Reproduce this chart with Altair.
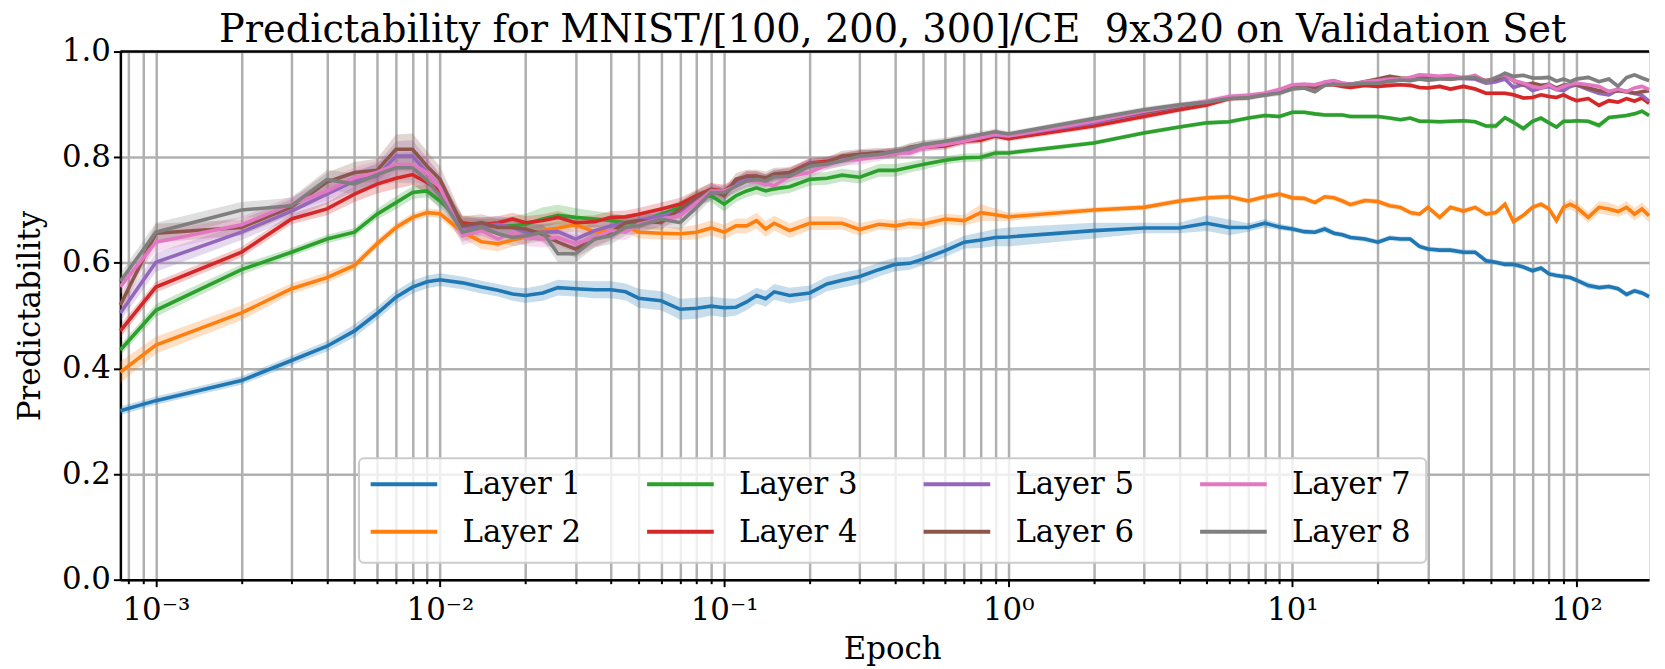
import altair as alt
import pandas as pd

FONT = "DejaVu Serif"

epochs = [0.00075, 0.001, 0.002, 0.003, 0.004, 0.005, 0.006, 0.007, 0.008, 0.009,
          0.01, 0.012, 0.014, 0.016, 0.018, 0.02, 0.023, 0.026, 0.03, 0.035, 0.04, 0.045, 0.05, 0.06, 0.07, 0.08, 0.09,
          0.1, 0.11, 0.12, 0.13, 0.14, 0.15, 0.17, 0.2, 0.23, 0.26, 0.3, 0.35, 0.4, 0.45, 0.5, 0.6, 0.7, 0.8, 0.9,
          1, 2, 3, 4, 5, 6, 7, 8, 9,
          10, 11, 12, 13, 14, 15, 16, 18,
          20, 22, 24, 26, 28, 30, 33, 36, 40, 44,
          48, 52, 56, 60, 65, 70, 75, 80, 85, 90,
          95, 100, 110, 120, 130, 140, 150, 160, 170, 180]

layer1 = [0.320, 0.339, 0.377, 0.415, 0.442, 0.471, 0.504, 0.535, 0.554, 0.564,
          0.568, 0.562, 0.554, 0.548, 0.541, 0.538, 0.543, 0.553, 0.551, 0.549, 0.549, 0.545, 0.533, 0.528, 0.512, 0.514, 0.518,
          0.515, 0.516, 0.526, 0.538, 0.532, 0.545, 0.538, 0.543, 0.560, 0.567, 0.574, 0.587, 0.597, 0.599, 0.607, 0.623, 0.639, 0.643, 0.648,
          0.649, 0.661, 0.666, 0.666, 0.675, 0.667, 0.667, 0.675, 0.668,
          0.664, 0.659, 0.658, 0.664, 0.656, 0.653, 0.648, 0.645,
          0.639, 0.647, 0.645, 0.645, 0.631, 0.626, 0.624, 0.624, 0.620, 0.620,
          0.604, 0.601, 0.597, 0.597, 0.592, 0.585, 0.590, 0.579, 0.576, 0.574,
          0.572, 0.567, 0.557, 0.553, 0.555, 0.551, 0.540, 0.547, 0.543, 0.536]

layer2 = [0.393, 0.444, 0.505, 0.551, 0.572, 0.595, 0.636, 0.667, 0.686, 0.695,
          0.693, 0.658, 0.640, 0.636, 0.643, 0.649, 0.661, 0.666, 0.672, 0.659, 0.659, 0.670, 0.658, 0.656, 0.655, 0.658, 0.666,
          0.658, 0.670, 0.670, 0.680, 0.664, 0.675, 0.661, 0.675, 0.675, 0.675, 0.663, 0.673, 0.670, 0.675, 0.673, 0.683, 0.680, 0.695, 0.691,
          0.687, 0.700, 0.705, 0.717, 0.723, 0.725, 0.717, 0.725, 0.730,
          0.723, 0.722, 0.714, 0.725, 0.723, 0.717, 0.710, 0.718,
          0.716, 0.708, 0.705, 0.695, 0.692, 0.705, 0.686, 0.705, 0.698, 0.705,
          0.692, 0.695, 0.711, 0.678, 0.690, 0.705, 0.711, 0.702, 0.680, 0.705,
          0.711, 0.705, 0.686, 0.705, 0.702, 0.697, 0.705, 0.692, 0.702, 0.689]

layer3 = [0.435, 0.510, 0.587, 0.620, 0.645, 0.658, 0.692, 0.714, 0.733, 0.736,
          0.717, 0.676, 0.670, 0.670, 0.670, 0.673, 0.683, 0.690, 0.686, 0.683, 0.680, 0.676, 0.676, 0.692, 0.705, 0.724, 0.727,
          0.711, 0.727, 0.736, 0.742, 0.736, 0.740, 0.744, 0.758, 0.760, 0.766, 0.762, 0.775, 0.775, 0.781, 0.786, 0.794, 0.799, 0.800, 0.808,
          0.808, 0.827, 0.846, 0.857, 0.865, 0.867, 0.874, 0.879, 0.877,
          0.885, 0.885, 0.882, 0.880, 0.880, 0.880, 0.877, 0.877,
          0.877, 0.874, 0.871, 0.874, 0.868, 0.868, 0.867, 0.868, 0.869, 0.867,
          0.859, 0.859, 0.875, 0.866, 0.854, 0.868, 0.874, 0.865, 0.857, 0.868,
          0.868, 0.869, 0.868, 0.860, 0.875, 0.877, 0.879, 0.882, 0.887, 0.879]

layer4 = [0.471, 0.554, 0.620, 0.683, 0.702, 0.730, 0.749, 0.760, 0.767, 0.752,
          0.736, 0.675, 0.672, 0.676, 0.683, 0.676, 0.680, 0.686, 0.676, 0.678, 0.686, 0.687, 0.692, 0.702, 0.711, 0.727, 0.739,
          0.736, 0.752, 0.764, 0.764, 0.758, 0.765, 0.771, 0.789, 0.792, 0.799, 0.805, 0.806, 0.811, 0.812, 0.819, 0.821, 0.830, 0.832, 0.840,
          0.835, 0.859, 0.877, 0.890, 0.899, 0.911, 0.913, 0.919, 0.924,
          0.934, 0.937, 0.934, 0.937, 0.937, 0.934, 0.932, 0.936,
          0.934, 0.936, 0.937, 0.936, 0.932, 0.931, 0.934, 0.929, 0.934, 0.929,
          0.921, 0.921, 0.921, 0.918, 0.912, 0.913, 0.918, 0.915, 0.913, 0.918,
          0.912, 0.907, 0.911, 0.898, 0.907, 0.904, 0.911, 0.906, 0.912, 0.902]

layer5 = [0.505, 0.601, 0.658, 0.698, 0.730, 0.755, 0.764, 0.802, 0.802, 0.771,
          0.742, 0.667, 0.670, 0.673, 0.667, 0.658, 0.658, 0.659, 0.645, 0.661, 0.670, 0.676, 0.680, 0.689, 0.698, 0.720, 0.733,
          0.730, 0.749, 0.761, 0.761, 0.755, 0.765, 0.768, 0.788, 0.790, 0.797, 0.804, 0.805, 0.810, 0.812, 0.819, 0.824, 0.832, 0.838, 0.842,
          0.840, 0.865, 0.884, 0.896, 0.904, 0.913, 0.915, 0.919, 0.924,
          0.934, 0.937, 0.931, 0.942, 0.944, 0.940, 0.938, 0.942,
          0.943, 0.944, 0.946, 0.948, 0.950, 0.951, 0.950, 0.950, 0.949, 0.948,
          0.940, 0.943, 0.948, 0.932, 0.938, 0.926, 0.931, 0.934, 0.928, 0.926,
          0.934, 0.937, 0.928, 0.921, 0.918, 0.928, 0.924, 0.921, 0.917, 0.906]

layer6 = [0.520, 0.656, 0.667, 0.706, 0.753, 0.771, 0.775, 0.815, 0.815, 0.783,
          0.758, 0.670, 0.676, 0.667, 0.667, 0.664, 0.654, 0.639, 0.626, 0.645, 0.658, 0.676, 0.680, 0.676, 0.702, 0.724, 0.739,
          0.727, 0.758, 0.764, 0.764, 0.761, 0.768, 0.771, 0.786, 0.790, 0.802, 0.805, 0.809, 0.808, 0.819, 0.823, 0.827, 0.835, 0.840, 0.846,
          0.842, 0.868, 0.885, 0.896, 0.904, 0.912, 0.915, 0.919, 0.924,
          0.934, 0.937, 0.932, 0.938, 0.940, 0.938, 0.937, 0.943,
          0.948, 0.953, 0.950, 0.948, 0.950, 0.951, 0.950, 0.948, 0.951, 0.950,
          0.945, 0.948, 0.955, 0.945, 0.937, 0.940, 0.936, 0.938, 0.931, 0.936,
          0.938, 0.937, 0.931, 0.926, 0.924, 0.926, 0.924, 0.921, 0.924, 0.926]

layer7 = [0.555, 0.639, 0.672, 0.711, 0.736, 0.761, 0.771, 0.786, 0.786, 0.771,
          0.742, 0.651, 0.661, 0.645, 0.658, 0.648, 0.645, 0.648, 0.636, 0.648, 0.661, 0.658, 0.673, 0.683, 0.689, 0.714, 0.736,
          0.736, 0.745, 0.755, 0.755, 0.749, 0.746, 0.764, 0.771, 0.786, 0.793, 0.796, 0.802, 0.808, 0.808, 0.818, 0.824, 0.830, 0.837, 0.843,
          0.840, 0.868, 0.887, 0.898, 0.906, 0.915, 0.917, 0.921, 0.928,
          0.937, 0.938, 0.937, 0.942, 0.945, 0.940, 0.938, 0.943,
          0.945, 0.948, 0.948, 0.951, 0.956, 0.955, 0.953, 0.955, 0.950, 0.955,
          0.943, 0.951, 0.956, 0.945, 0.940, 0.934, 0.931, 0.937, 0.928, 0.934,
          0.938, 0.940, 0.937, 0.934, 0.924, 0.929, 0.924, 0.931, 0.934, 0.928]

layer8 = [0.565, 0.658, 0.700, 0.708, 0.758, 0.749, 0.767, 0.780, 0.780, 0.756,
          0.727, 0.658, 0.667, 0.655, 0.648, 0.651, 0.658, 0.617, 0.617, 0.645, 0.651, 0.667, 0.670, 0.683, 0.676, 0.705, 0.733,
          0.733, 0.745, 0.755, 0.758, 0.755, 0.763, 0.764, 0.783, 0.787, 0.793, 0.802, 0.805, 0.811, 0.817, 0.824, 0.830, 0.837, 0.843, 0.848,
          0.844, 0.873, 0.890, 0.899, 0.904, 0.911, 0.913, 0.918, 0.921,
          0.929, 0.931, 0.924, 0.936, 0.938, 0.937, 0.938, 0.940,
          0.940, 0.944, 0.946, 0.945, 0.948, 0.946, 0.948, 0.948, 0.950, 0.951,
          0.943, 0.950, 0.959, 0.953, 0.955, 0.950, 0.950, 0.951, 0.944, 0.948,
          0.943, 0.948, 0.951, 0.943, 0.948, 0.934, 0.951, 0.956, 0.950, 0.945]

# half-widths of the shaded bands
spread1 = [0.008, 0.008, 0.008, 0.009, 0.010, 0.012, 0.012, 0.012, 0.012, 0.012,
           0.012, 0.012, 0.012, 0.012, 0.013, 0.014, 0.015, 0.015, 0.015, 0.016, 0.016, 0.016, 0.018, 0.018, 0.020, 0.020, 0.018,
           0.018, 0.016, 0.016, 0.015, 0.015, 0.015, 0.015, 0.014, 0.014, 0.014, 0.014, 0.013, 0.013, 0.012, 0.012, 0.012, 0.012, 0.015, 0.016,
           0.018, 0.015, 0.010, 0.010, 0.015, 0.015, 0.008, 0.008, 0.006,
           0.005, 0.005, 0.005, 0.006, 0.005, 0.005, 0.005, 0.005,
           0.005, 0.005, 0.005, 0.005, 0.005, 0.005, 0.005, 0.005, 0.005, 0.005,
           0.005, 0.005, 0.005, 0.005, 0.005, 0.005, 0.005, 0.005, 0.005, 0.005,
           0.005, 0.005, 0.006, 0.005, 0.005, 0.005, 0.005, 0.005, 0.005, 0.005]

spread2 = [0.020, 0.016, 0.014, 0.010, 0.010, 0.009, 0.008, 0.008, 0.008, 0.008,
           0.008, 0.012, 0.014, 0.014, 0.012, 0.012, 0.012, 0.012, 0.012, 0.012, 0.012, 0.012, 0.012, 0.012, 0.012, 0.014, 0.014,
           0.014, 0.014, 0.014, 0.015, 0.015, 0.014, 0.014, 0.013, 0.013, 0.012, 0.012, 0.010, 0.010, 0.010, 0.010, 0.010, 0.010, 0.016, 0.012,
           0.008, 0.005, 0.005, 0.005, 0.005, 0.005, 0.005, 0.005, 0.005,
           0.005, 0.005, 0.005, 0.005, 0.005, 0.005, 0.005, 0.005,
           0.005, 0.005, 0.005, 0.005, 0.005, 0.005, 0.005, 0.005, 0.005, 0.005,
           0.005, 0.005, 0.005, 0.005, 0.005, 0.005, 0.005, 0.005, 0.008, 0.008,
           0.010, 0.010, 0.010, 0.012, 0.012, 0.010, 0.012, 0.012, 0.012, 0.012]

spread3 = [0.010, 0.012, 0.010, 0.008, 0.008, 0.008, 0.010, 0.012, 0.012, 0.012,
           0.012, 0.012, 0.012, 0.015, 0.018, 0.020, 0.022, 0.020, 0.018, 0.015, 0.014, 0.013, 0.012, 0.012, 0.012, 0.012, 0.012,
           0.014, 0.012, 0.012, 0.012, 0.012, 0.012, 0.012, 0.012, 0.012, 0.012, 0.012, 0.012, 0.012, 0.010, 0.010, 0.008, 0.008, 0.008, 0.006,
           0.005, 0.004, 0.004, 0.004, 0.004, 0.004, 0.004, 0.004, 0.004,
           0.004, 0.004, 0.004, 0.004, 0.004, 0.004, 0.004, 0.004,
           0.004, 0.004, 0.004, 0.004, 0.004, 0.004, 0.004, 0.004, 0.004, 0.004,
           0.004, 0.006, 0.004, 0.004, 0.006, 0.004, 0.004, 0.004, 0.004, 0.004,
           0.004, 0.004, 0.004, 0.006, 0.004, 0.004, 0.004, 0.004, 0.004, 0.004]

spread4 = [0.012, 0.010, 0.010, 0.010, 0.012, 0.015, 0.018, 0.020, 0.020, 0.020,
           0.018, 0.015, 0.014, 0.012, 0.012, 0.012, 0.012, 0.012, 0.012, 0.012, 0.012, 0.012, 0.012, 0.012, 0.012, 0.012, 0.012,
           0.012, 0.010, 0.010, 0.010, 0.010, 0.010, 0.010, 0.009, 0.009, 0.009, 0.008, 0.008, 0.008, 0.008, 0.007, 0.007, 0.006, 0.006, 0.006,
           0.005, 0.005, 0.005, 0.005, 0.005, 0.005, 0.005, 0.005, 0.005,
           0.004, 0.004, 0.004, 0.004, 0.004, 0.004, 0.004, 0.004,
           0.004, 0.004, 0.004, 0.004, 0.004, 0.004, 0.004, 0.004, 0.004, 0.004,
           0.004, 0.004, 0.004, 0.004, 0.004, 0.004, 0.004, 0.004, 0.004, 0.004,
           0.004, 0.004, 0.004, 0.004, 0.004, 0.004, 0.004, 0.004, 0.004, 0.004]

spread_upper = [0.015, 0.018, 0.015, 0.015, 0.018, 0.020, 0.022, 0.028, 0.030, 0.028,
                0.025, 0.018, 0.016, 0.016, 0.016, 0.016, 0.016, 0.016, 0.016, 0.016, 0.016, 0.015, 0.015, 0.014, 0.014, 0.013, 0.013,
                0.012, 0.012, 0.012, 0.012, 0.012, 0.012, 0.010, 0.010, 0.010, 0.010, 0.010, 0.009, 0.008, 0.008, 0.008, 0.007, 0.007, 0.006, 0.006,
                0.005, 0.005, 0.005, 0.005, 0.005, 0.005, 0.005, 0.005, 0.005,
                0.004, 0.004, 0.004, 0.004, 0.004, 0.004, 0.004, 0.004,
                0.004, 0.004, 0.004, 0.004, 0.004, 0.004, 0.004, 0.004, 0.004, 0.004,
                0.004, 0.004, 0.004, 0.004, 0.004, 0.004, 0.004, 0.004, 0.004, 0.004,
                0.004, 0.004, 0.004, 0.004, 0.004, 0.004, 0.004, 0.004, 0.004, 0.004]

layer_names = ["Layer 1", "Layer 2", "Layer 3", "Layer 4", "Layer 5", "Layer 6", "Layer 7", "Layer 8"]
layer_colors = ["#1f77b4", "#ff7f0e", "#2ca02c", "#d62728", "#9467bd", "#8c564b", "#e377c2", "#7f7f7f"]
series = [layer1, layer2, layer3, layer4, layer5, layer6, layer7, layer8]
spreads = [spread1, spread2, spread3, spread4, spread_upper, spread_upper, spread_upper, spread_upper]

x_ticks = [0.0008, 0.0009,
           0.001, 0.002, 0.003, 0.004, 0.005, 0.006, 0.007, 0.008, 0.009,
           0.01, 0.02, 0.03, 0.04, 0.05, 0.06, 0.07, 0.08, 0.09,
           0.1, 0.2, 0.3, 0.4, 0.5, 0.6, 0.7, 0.8, 0.9,
           1, 2, 3, 4, 5, 6, 7, 8, 9,
           10, 20, 30, 40, 50, 60, 70, 80, 90,
           100]
y_ticks = [0.0, 0.2, 0.4, 0.6, 0.8, 1.0]

for s in series + spreads:
    assert len(s) == len(epochs), len(s)

rows = []
for name, vals, spr in zip(layer_names, series, spreads):
    for e, v, s in zip(epochs, vals, spr):
        rows.append({"layer": name, "epoch": e, "value": v, "lo": v - s, "hi": v + s})
df = pd.DataFrame(rows)

E = "round(log(datum.value)/LN10)"
MAJOR = f"abs(log(datum.value)/LN10 - {E}) < 0.01"
label_expr = (f"({MAJOR}) ? ({E} == -3 ? '10⁻³' : {E} == -2 ? '10⁻²' : {E} == -1 ? '10⁻¹' : "
              f"{E} == 0 ? '10⁰' : {E} == 1 ? '10¹' : '10²') : ''")

xscale = alt.Scale(type="log", domain=[0.00075, 180], nice=False)
yscale = alt.Scale(domain=[0, 1], nice=False)

xaxis = alt.Axis(values=x_ticks, labelExpr=label_expr, title="Epoch",
                 grid=True, gridColor="#b0b0b0", gridWidth=2.5, gridOpacity=1,
                 domainColor="black", domainWidth=2.5,
                 tickColor="black", tickWidth=2,
                 tickSize={"condition": {"test": MAJOR, "value": 7}, "value": 4},
                 labelFont=FONT, labelFontSize=31, labelColor="black", labelPadding=9,
                 labelFlush=False, labelOverlap=False,
                 titleFont=FONT, titleFontSize=31, titleFontWeight="normal", titleColor="black",
                 titleBaseline="alphabetic", titleY=79, titleX=776)

yaxis = alt.Axis(values=y_ticks, format=".1f", title="Predictability",
                 grid=True, gridColor="#b0b0b0", gridWidth=2.5, gridOpacity=1,
                 domainColor="black", domainWidth=2.5,
                 tickColor="black", tickWidth=2, tickSize=7,
                 labelFont=FONT, labelFontSize=31, labelColor="black", labelPadding=3,
                 labelFlush=False,
                 titleFont=FONT, titleFontSize=31, titleFontWeight="normal", titleColor="black",
                 titleX=-90, titleBaseline="middle")

color_scale = alt.Scale(domain=layer_names, range=layer_colors)

bands = alt.Chart(df).mark_area(opacity=0.25).encode(
    x=alt.X("epoch:Q", scale=xscale, axis=xaxis),
    y=alt.Y("lo:Q", scale=yscale, axis=yaxis),
    y2="hi:Q",
    color=alt.Color("layer:N", scale=color_scale, legend=None),
)

lines = alt.Chart(df).mark_line(strokeWidth=3.6).encode(
    x=alt.X("epoch:Q", scale=xscale, axis=xaxis),
    y=alt.Y("value:Q", scale=yscale, axis=yaxis),
    color=alt.Color("layer:N", scale=color_scale, legend=None),
)

top_spine = alt.Chart(pd.DataFrame({"k": [0]})).mark_rule(color="black", strokeWidth=2.5).encode(
    y=alt.value(0)
)

main = alt.layer(bands, lines, top_spine)

# ---- legend (4 columns, filled column by column), drawn as marks on its own scales ----
leg_df = pd.DataFrame({
    "label": layer_names,
    "color": layer_colors,
    "col": [0, 0, 1, 1, 2, 2, 3, 3],
    "row": [0, 1, 0, 1, 0, 1, 0, 1],
})
leg_df["sym_end"] = leg_df["col"] + 0.241
leg_df["text_x"] = leg_df["col"] + 0.332
box_df = pd.DataFrame({"x0": [-0.042], "x1": [3.818], "y0": [-0.545], "y1": [1.656]})

lx = alt.Scale(domain=[0, 4], range=[251.6, 1363.6], nice=False, zero=False)
ly = alt.Scale(domain=[0, 1], range=[435, 482.7], nice=False, zero=False)

leg_box = alt.Chart(box_df).mark_rect(fill="white", fillOpacity=0.8, stroke="#cccccc",
                                      strokeWidth=2, cornerRadius=5).encode(
    x=alt.X("x0:Q", scale=lx, axis=None), x2="x1:Q",
    y=alt.Y("y0:Q", scale=ly, axis=None), y2="y1:Q",
)
leg_sym = alt.Chart(leg_df).mark_rule(strokeWidth=4).encode(
    x=alt.X("col:Q", scale=lx, axis=None), x2="sym_end:Q",
    y=alt.Y("row:Q", scale=ly, axis=None),
    color=alt.Color("color:N", scale=None, legend=None),
)
leg_txt = alt.Chart(leg_df).mark_text(align="left", baseline="middle", font=FONT, fontSize=31,
                                      color="black", dy=1).encode(
    x=alt.X("text_x:Q", scale=lx, axis=None),
    y=alt.Y("row:Q", scale=ly, axis=None),
    text="label:N",
)
legend = alt.layer(leg_box, leg_sym, leg_txt)

chart = alt.layer(main, legend).resolve_scale(
    x="independent", y="independent", color="independent"
).properties(
    width=1537,
    height=531,
    padding={"left": 7, "top": 1, "right": 0, "bottom": 0},
    title=alt.TitleParams(text="Predictability for MNIST/[100, 200, 300]/CE\u00a0 9x320 on Validation Set",
                          font=FONT, fontSize=38.5, fontWeight="normal", color="black",
                          anchor="middle", frame="group", baseline="alphabetic", offset=0, dy=44.5, dx=8),
).configure_view(stroke=None).configure(background="white")

chart.save("out.html", embed_options={"renderer": "svg", "actions": False})
